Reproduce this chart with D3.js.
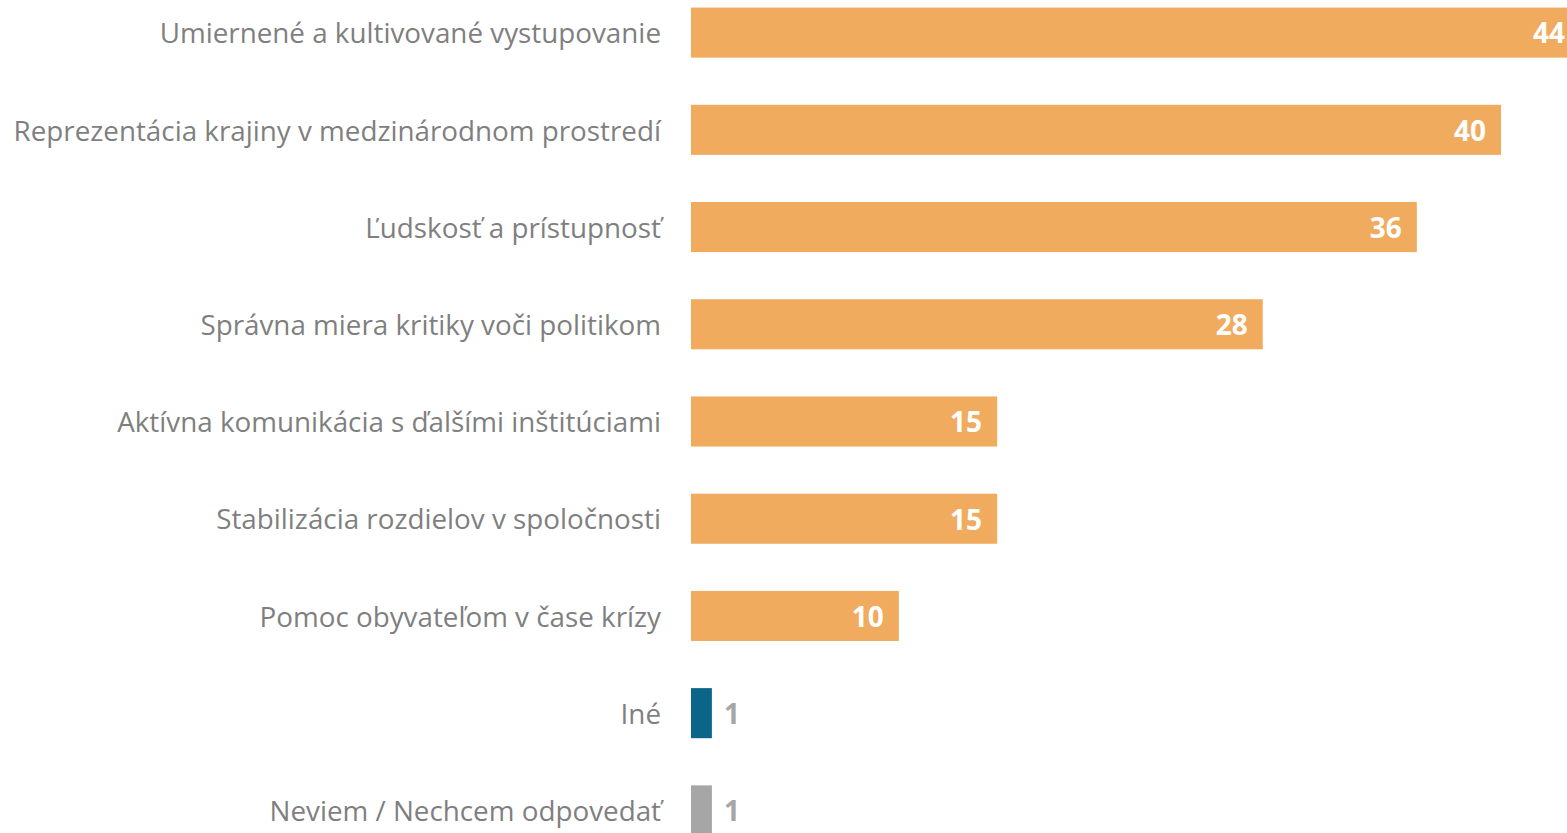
<!DOCTYPE html>
<html>
<head>
<meta charset="utf-8">
<script src="https://cdn.jsdelivr.net/npm/d3@7"></script>
<style>
  body { margin: 0; background: #fff; overflow: hidden; }
  svg { display: block; }
</style>
</head>
<body>
<svg id="chart" width="1567" height="833"></svg>
<script>
var categories = [
  "Umiernené a kultivované vystupovanie",
  "Reprezentácia krajiny v medzinárodnom prostredí",
  "Ľudskosť a prístupnosť",
  "Správna miera kritiky voči politikom",
  "Aktívna komunikácia s ďalšími inštitúciami",
  "Stabilizácia rozdielov v spoločnosti",
  "Pomoc obyvateľom v čase krízy",
  "Iné",
  "Neviem / Nechcem odpovedať"
];
// bar lengths, labels shown rounded
var values = [44.2, 39.95, 35.8, 28.2, 15.1, 15.1, 10.25, 1.03, 1.03];
var labels = ["44", "40", "36", "28", "15", "15", "10", "1", "1"];
var barColors = ["#F0AB5E", "#F0AB5E", "#F0AB5E", "#F0AB5E", "#F0AB5E", "#F0AB5E", "#F0AB5E", "#0B6587", "#A6A6A6"];

var svg = d3.select("#chart"),
  width = +svg.attr("width"),
  height = +svg.attr("height");

var left = 691;

var x = d3.scaleLinear().domain([0, 40]).range([left, left + 811]);

var y = d3
  .scaleBand()
  .domain(categories)
  .range([-16, 859])
  .paddingInner(0.485)
  .paddingOuter(0.2425);

var rows = svg
  .selectAll("g.row")
  .data(categories)
  .enter()
  .append("g")
  .attr("class", "row");

rows
  .append("rect")
  .attr("x", x(0))
  .attr("y", function(d) {
    return y(d);
  })
  .attr("width", function(d, i) {
    return x(values[i]) - x(0);
  })
  .attr("height", y.bandwidth())
  .attr("fill", function(d, i) {
    return barColors[i];
  });

rows
  .append("text")
  .attr("x", 661)
  .attr("y", function(d) {
    return y(d) + y.bandwidth() / 2 + 1;
  })
  .attr("dy", "0.35em")
  .attr("text-anchor", "end")
  .attr("font-family", "'Open Sans', sans-serif")
  .attr("font-size", 27.8)
  .attr("fill", "#7F7F7F")
  .text(function(d) {
    return d;
  });

rows
  .append("text")
  .attr("x", function(d, i) {
    // small bars get their value outside, in grey
    if (values[i] < 5) return x(values[i]) + 12;
    // keep the value inside the page when the bar runs off the edge
    return Math.min(x(values[i]) - 15, width - 2);
  })
  .attr("y", function(d) {
    return y(d) + y.bandwidth() / 2 + 1;
  })
  .attr("dy", "0.35em")
  .attr("text-anchor", function(d, i) {
    return values[i] < 5 ? "start" : "end";
  })
  .attr("font-family", "'Open Sans', sans-serif")
  .attr("font-weight", "bold")
  .attr("font-size", 28)
  .attr("fill", function(d, i) {
    return values[i] < 5 ? "#A6A6A6" : "#fff";
  })
  .text(function(d, i) {
    return labels[i];
  });
</script>
</body>
</html>
